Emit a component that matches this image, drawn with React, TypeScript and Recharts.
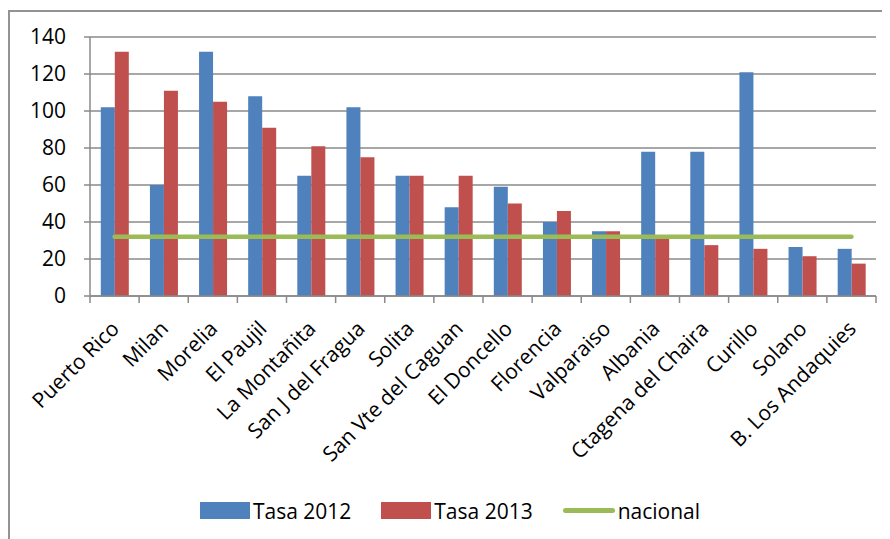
import React from 'react';
import { ComposedChart, Bar, Line, XAxis, YAxis, CartesianGrid, Legend } from 'recharts';

const categories = [
  'Puerto Rico', 'Milan', 'Morelia', 'El Paujil', 'La Montañita', 'San J del Fragua', 'Solita',
  'San Vte del Caguan', 'El Doncello', 'Florencia', 'Valparaiso', 'Albania', 'Ctagena del Chaira',
  'Curillo', 'Solano', 'B. Los Andaquies',
];
const tasa2012 = [102, 60, 132, 108, 65, 102, 65, 48, 59, 40, 35, 78, 78, 121, 26.5, 25.5];
const tasa2013 = [132, 111, 105, 91, 81, 75, 65, 65, 50, 46, 35, 31, 27.5, 25.5, 21.5, 17.5];
const nacional = [32, 32, 32, 32, 32, 32, 32, 32, 32, 32, 32, 32, 32, 32, 32, 32];
const yTicks = [0, 20, 40, 60, 80, 100, 120, 140];
const seriesNames = ['Tasa 2012', 'Tasa 2013', 'nacional'];
const seriesColors = ['#4F81BD', '#C0504D', '#9BBB59'];

const data = categories.map((c, i) => ({
  name: c,
  t2012: tasa2012[i],
  t2013: tasa2013[i],
  nacional: nacional[i],
}));

const FONT = '"Open Sans", sans-serif';
const GRID = '#8a8a8a';
const CHART_W = 882;
const CHART_H = 531;
const MARGIN = { top: 29, right: 14, bottom: 10, left: 0 };
const YAXIS_W = 82;
const LEGEND_H = 40;
const XAXIS_H = 193;
const PLOT_W = CHART_W - MARGIN.left - MARGIN.right - YAXIS_W;
const PLOT_BOTTOM = CHART_H - MARGIN.bottom - LEGEND_H - XAXIS_H;
const BAND = PLOT_W / categories.length;

function CategoryTick(props: any) {
  const { x, payload, index } = props;
  const ay = PLOT_BOTTOM;
  const tx = x + 6;
  const ty = ay + 34;
  return (
    <g>
      {index === 0 && (
        <line x1={x - BAND / 2} x2={x - BAND / 2} y1={ay} y2={ay + 7} stroke={GRID} strokeWidth={1.5} />
      )}
      <line x1={x + BAND / 2} x2={x + BAND / 2} y1={ay} y2={ay + 7} stroke={GRID} strokeWidth={1.5} />
      <text
        x={tx}
        y={ty}
        transform={`rotate(-45 ${tx} ${ty})`}
        textAnchor="end"
        fontFamily={FONT}
        fontSize={21}
        fill="#000"
      >
        {payload.value}
      </text>
    </g>
  );
}

function LegendContent() {
  return (
    <div
      style={{
        display: 'flex',
        justifyContent: 'center',
        alignItems: 'center',
        fontFamily: FONT,
        fontSize: 21,
        color: '#000',
        height: LEGEND_H,
        paddingLeft: 16,
        paddingTop: 3,
        boxSizing: 'border-box',
      }}
    >
      {seriesNames.map((n, i) => (
        <div key={n} style={{ display: 'flex', alignItems: 'center', marginLeft: i === 0 ? 0 : 30 }}>
          {i < 2 ? (
            <div style={{ width: 50, height: 17, background: seriesColors[i], marginRight: 3 }} />
          ) : (
            <div
              style={{ width: 52, height: 5, borderRadius: 3, background: seriesColors[i], marginRight: 3 }}
            />
          )}
          <span>{n}</span>
        </div>
      ))}
    </div>
  );
}

export default function App() {
  return (
    <div style={{ position: 'relative', width: CHART_W, height: CHART_H, background: '#fff' }}>
      <div
        style={{
          position: 'absolute',
          left: 0,
          top: 2,
          width: CHART_W,
          height: CHART_H - 2,
          borderLeft: '2px solid #939393',
          borderTop: '2px solid #939393',
          boxSizing: 'border-box',
        }}
      />
      <ComposedChart
        width={CHART_W}
        height={CHART_H}
        data={data}
        margin={MARGIN}
        barCategoryGap="22%"
        barGap={0}
      >
        <CartesianGrid vertical={false} stroke={GRID} strokeWidth={1.5} />
        <XAxis
          dataKey="name"
          interval={0}
          height={XAXIS_H}
          tick={<CategoryTick />}
          tickLine={false}
          axisLine={{ stroke: GRID, strokeWidth: 1.5 }}
        />
        <YAxis
          width={YAXIS_W}
          domain={[0, 140]}
          ticks={yTicks}
          interval={0}
          tickSize={6}
          tickMargin={18}
          tickLine={{ stroke: GRID, strokeWidth: 1.5 }}
          axisLine={{ stroke: GRID, strokeWidth: 1.5 }}
          tick={{ fontFamily: FONT, fontSize: 21, fill: '#000' }}
        />
        <Legend verticalAlign="bottom" height={LEGEND_H} content={<LegendContent />} />
        <Bar dataKey="t2012" name={seriesNames[0]} fill={seriesColors[0]} isAnimationActive={false} />
        <Bar dataKey="t2013" name={seriesNames[1]} fill={seriesColors[1]} isAnimationActive={false} />
        <Line
          dataKey="nacional"
          name={seriesNames[2]}
          stroke={seriesColors[2]}
          strokeWidth={4.5}
          strokeLinecap="round"
          dot={false}
          activeDot={false}
          type="linear"
          isAnimationActive={false}
        />
      </ComposedChart>
    </div>
  );
}
